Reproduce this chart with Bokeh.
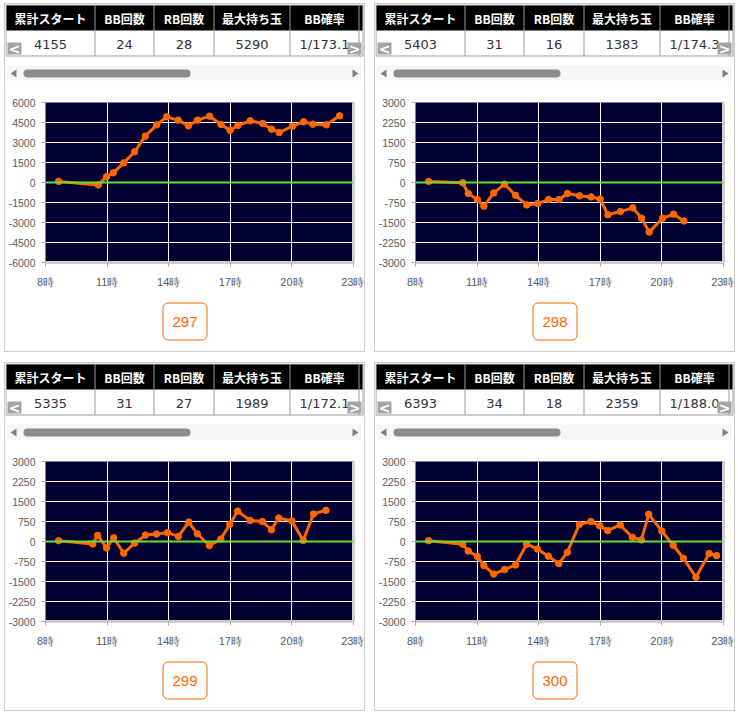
from bokeh.plotting import figure
from bokeh.layouts import column, row
from bokeh.models import Range1d, FixedTicker, Span, LinearAxis
from bokeh.embed import file_html
from bokeh.resources import INLINE
from bokeh.core.properties import value

# ---------------- data ----------------
headers = ["累計スタート", "BB回数", "RB回数", "最大持ち玉", "BB確率"]
machines = ["297", "298", "299", "300"]
total_starts = ["4155", "5403", "5335", "6393"]
bb_counts = ["24", "31", "31", "34"]
rb_counts = ["28", "16", "27", "18"]
max_balls = ["5290", "1383", "1989", "2359"]
bb_probs = ["1/173.1", "1/174.3", "1/172.1", "1/188.0"]

x_ticks = [8, 11, 14, 17, 20, 23]
x_tick_labels = ["8時", "11時", "14時", "17時", "20時", "23時"]

y_limits = [6000, 3000, 3000, 3000]
y_steps = [1500, 750, 750, 750]

hours_297 = [8.64, 10.57, 10.97, 11.30, 11.81, 12.34, 12.86, 13.42, 13.90, 14.46, 14.96, 15.40, 15.99,
             16.55, 16.99, 17.37, 17.97, 18.58, 19.01, 19.38, 20.03, 20.57, 21.02, 21.68, 22.32]
diff_297 = [80, -180, 425, 725, 1475, 2300, 3475, 4325, 4925, 4675, 4250, 4675, 4975,
            4350, 3925, 4275, 4625, 4425, 4000, 3750, 4225, 4550, 4375, 4325, 5000]

hours_298 = [8.64, 10.30, 10.57, 11.01, 11.33, 11.81, 12.34, 12.87, 13.42, 13.95, 14.48, 14.99,
             15.40, 15.99, 16.55, 16.99, 17.37, 17.98, 18.58, 19.01, 19.38, 20.03, 20.57, 21.07]
diff_298 = [40, -10, -410, -640, -890, -390, -60, -480, -840, -790, -640, -640,
            -410, -500, -540, -620, -1210, -1090, -950, -1340, -1860, -1340, -1190, -1440]

hours_299 = [8.64, 10.30, 10.54, 10.97, 11.32, 11.81, 12.34, 12.87, 13.41, 13.94, 14.47, 14.98, 15.39,
             15.98, 16.54, 16.97, 17.36, 17.97, 18.56, 19.00, 19.36, 20.00, 20.55, 21.05, 21.66]
diff_299 = [30, -90, 230, -240, 140, -440, -60, 240, 280, 330, 190, 730, 290,
            -150, 90, 640, 1140, 790, 750, 440, 880, 770, 40, 1030, 1170]

hours_300 = [8.64, 10.30, 10.57, 11.01, 11.33, 11.81, 12.34, 12.87, 13.41, 13.94, 14.47, 14.98, 15.39,
             15.98, 16.54, 16.97, 17.36, 17.97, 18.56, 19.00, 19.36, 20.00, 20.55, 21.05, 21.66,
             22.30, 22.66]
diff_300 = [30, -100, -360, -560, -900, -1220, -1050, -880, -100, -280, -550, -830, -410,
            640, 750, 590, 410, 620, 160, 60, 1020, 390, -140, -630, -1340, -450, -530]

series_hours = [hours_297, hours_298, hours_299, hours_300]
series_diffs = [diff_297, diff_298, diff_299, diff_300]

# ---------------- layout constants ----------------
PW = 359           # panel inner width
TABLE_H = 56
SCROLL_H = 26
CHART_H = 215
BUTTON_H = 50
col_edges = [0.5, 89.5, 148.5, 208.5, 284.5, 353.5]
ORANGE = "#ff6600"


def no_align(p):
    try:
        p.frame_align = False
    except Exception:
        pass
    return p


def deco_fig(h):
    p = figure(width=PW, height=h, x_range=Range1d(0, PW), y_range=Range1d(h, 0),
               x_axis_type=None, y_axis_type=None,
               min_border=0, min_border_left=0, min_border_right=0,
               min_border_top=0, min_border_bottom=0,
               output_backend="svg", toolbar_location=None)
    p.outline_line_color = None
    p.background_fill_color = "white"
    p.border_fill_color = "white"
    p.xgrid.visible = False
    p.ygrid.visible = False
    return no_align(p)


def table_fig(i):
    p = deco_fig(TABLE_H)
    p.quad(left=[0.5], right=[357.5], top=[0.5], bottom=[51.5], fill_color="white",
           line_color="#999999", line_width=1)
    p.quad(left=[1], right=[357], top=[1], bottom=[26], fill_color="black", line_color=None)
    p.segment(x0=col_edges[1:], y0=[0.5] * 5, x1=col_edges[1:], y1=[51.5] * 5,
              line_color="#999999", line_width=1)
    centers = [(col_edges[k] + col_edges[k + 1]) / 2 for k in range(5)]
    p.text(x=centers, y=[14] * 5, text=headers, text_color="white",
           text_font=value("Noto Sans CJK JP"), text_font_style="bold", text_font_size="12px",
           text_align="center", text_baseline="middle")
    vals = [total_starts[i], bb_counts[i], rb_counts[i], max_balls[i], bb_probs[i]]
    p.text(x=centers, y=[39.5] * 5, text=vals, text_color="#333333",
           text_font=value("DejaVu Sans"), text_font_size="13px",
           text_align="center", text_baseline="middle")
    p.quad(left=[2, 342], right=[16, 356], top=[38, 38], bottom=[50, 50],
           fill_color="#a3a3a3", line_color=None)
    p.text(x=[9, 349], y=[44.5, 44.5], text=["<", ">"], text_color="white",
           text_font=value("DejaVu Sans"), text_font_style="bold", text_font_size="14px",
           text_align="center", text_baseline="middle")
    return p


def scroll_fig():
    p = deco_fig(SCROLL_H)
    p.quad(left=[1], right=[356], top=[5], bottom=[20], fill_color="#f6f6f6", line_color=None)
    p.line(x=[22, 181], y=[13, 13], line_width=8, line_cap="round", line_color="#8c8c8c")
    p.patches(xs=[[5, 11, 11], [353, 347, 347]], ys=[[13, 9, 17], [13, 9, 17]],
              fill_color="#7f7f7f", line_color=None)
    return p


def chart_fig(i):
    ylim = y_limits[i]
    step = y_steps[i]
    yt = list(range(-ylim, ylim + 1, step))
    p = figure(width=PW, height=CHART_H, x_range=Range1d(8, 23), y_range=Range1d(-ylim, ylim),
               output_backend="svg", toolbar_location=None,
               min_border_left=37, min_border_right=11, min_border_top=16, min_border_bottom=39)
    no_align(p)
    p.background_fill_color = "#000033"
    p.border_fill_color = "white"
    p.outline_line_color = None

    p.xaxis.ticker = FixedTicker(ticks=x_ticks)
    p.xgrid.ticker = FixedTicker(ticks=x_ticks)
    p.xaxis.major_label_overrides = {t: l for t, l in zip(x_ticks, x_tick_labels)}
    p.yaxis.ticker = FixedTicker(ticks=yt)
    p.ygrid.ticker = FixedTicker(ticks=yt)
    p.yaxis.major_label_overrides = {t: str(t) for t in yt}

    for ax in (p.xaxis[0], p.yaxis[0]):
        ax.major_label_text_font = "Liberation Sans"
        ax.major_label_text_color = "#5a5a5a"
        ax.minor_tick_line_color = None
        ax.major_tick_in = 0
        ax.major_tick_out = 4
        ax.major_tick_line_color = "#aaaaaa"
    p.yaxis.major_label_text_font_size = "10.5px"
    p.xaxis.major_label_text_font_size = "11px"
    p.xaxis.axis_line_color = "#cfcfcf"
    p.xaxis.axis_line_width = 3
    p.xaxis.major_label_standoff = 9
    p.yaxis.axis_line_color = None
    p.yaxis.major_label_standoff = 6

    rax = LinearAxis(ticker=FixedTicker(ticks=[]), major_label_text_font_size="0px",
                     axis_line_color="#cfcfcf", axis_line_width=3,
                     major_tick_line_color=None, minor_tick_line_color=None)
    p.add_layout(rax, "right")

    p.grid.grid_line_color = "white"
    p.grid.grid_line_width = 1

    p.add_layout(Span(location=0, dimension="width", line_color="#66dd33", line_width=2))
    p.line(series_hours[i], series_diffs[i], line_color=ORANGE, line_width=3)
    p.scatter(series_hours[i], series_diffs[i], size=6.5, fill_color=ORANGE, line_color=ORANGE)
    return p


def button_fig(i):
    p = deco_fig(BUTTON_H)
    try:
        p.quad(left=[157.5], right=[201.5], top=[1.5], bottom=[38.5], fill_color="white",
               line_color=ORANGE, line_width=1, border_radius=5)
    except Exception:
        p.quad(left=[157.5], right=[201.5], top=[1.5], bottom=[38.5], fill_color="white",
               line_color=ORANGE, line_width=1)
    p.text(x=[179.5], y=[20.5], text=[machines[i]], text_color=ORANGE,
           text_font=value("Liberation Sans"), text_font_size="15px",
           text_align="center", text_baseline="middle")
    return p


def panel(i):
    return column(table_fig(i), scroll_fig(), chart_fig(i), button_fig(i), spacing=0,
                  styles={"border": "1px solid #cccccc"})


root = column(row(panel(0), panel(1), spacing=9), row(panel(2), panel(3), spacing=9),
              spacing=10, margin=(3, 0, 0, 4))

open("out.html", "w").write(file_html(root, INLINE))
